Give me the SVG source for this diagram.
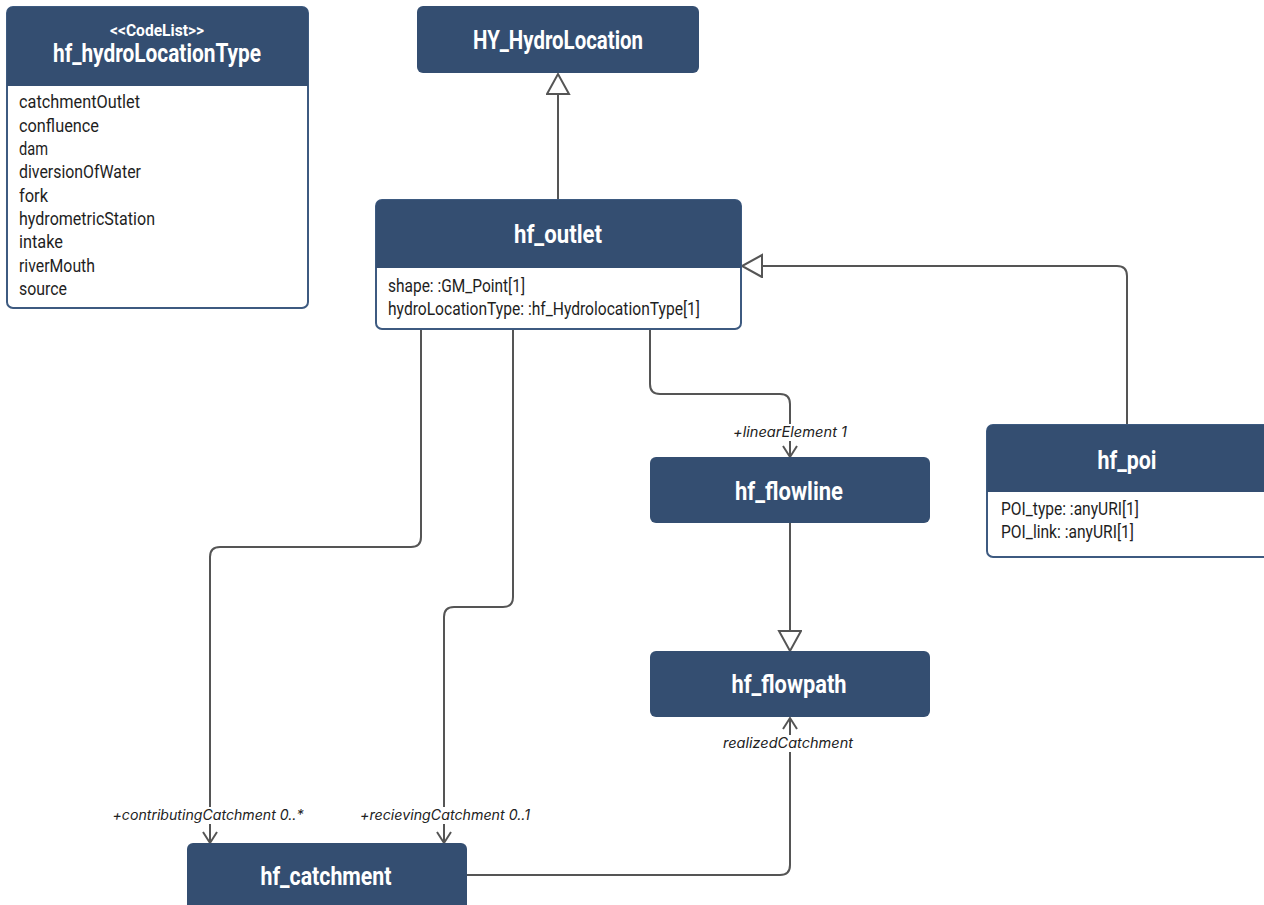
<svg xmlns="http://www.w3.org/2000/svg" width="1264" height="905" viewBox="0 0 1264 905">
  <style>
    .box { fill: #ffffff; stroke: #3d5a80; stroke-width: 2; }
    .head { fill: #344e71; }
    .title { font-family: Roboto, "Liberation Sans", sans-serif; font-weight: bold; font-size: 26px; fill: #ffffff; text-anchor: middle; }
    .stereo { font-family: Roboto, "Liberation Sans", sans-serif; font-weight: bold; font-size: 16px; fill: #ffffff; text-anchor: middle; }
    .attr { font-family: Roboto, "Liberation Sans", sans-serif; font-size: 18px; fill: #1e1e1e; }
    .role { font-family: Inter, "Liberation Sans", sans-serif; font-style: italic; font-size: 14px; fill: #222222; text-anchor: middle; }
    .bg { fill: #ffffff; }
    .edge { fill: none; stroke: #555555; stroke-width: 2; }
  </style>
  <defs>
    <marker id="gen" markerWidth="24" markerHeight="26" refX="21" refY="12" orient="auto" markerUnits="userSpaceOnUse">
      <path d="M1,1 L21,12 L1,23 Z" fill="#ffffff" stroke="#555555" stroke-width="2"/>
    </marker>
    <marker id="open" markerWidth="16" markerHeight="18" refX="13" refY="8" orient="auto" markerUnits="userSpaceOnUse">
      <path d="M2,1 L13,8 L2,15" fill="none" stroke="#555555" stroke-width="2"/>
    </marker>
  </defs>

  <!-- connectors -->
  <g id="connectors">
    <path class="edge" d="M558,200 V74" marker-end="url(#gen)"/>
    <path class="edge" d="M1127,425 V276 Q1127,266 1117,266 H742" marker-end="url(#gen)"/>
    <path class="edge" d="M650,330 V384 Q650,394 660,394 H780 Q790,394 790,404 V457" marker-end="url(#open)"/>
    <path class="edge" d="M421,330 V537 Q421,547 411,547 H220 Q210,547 210,557 V843" marker-end="url(#open)"/>
    <path class="edge" d="M513,330 V597 Q513,607 503,607 H454 Q444,607 444,617 V843" marker-end="url(#open)"/>
    <path class="edge" d="M790,523 V651" marker-end="url(#gen)"/>
    <path class="edge" d="M467,875 H780 Q790,875 790,865 V718" marker-end="url(#open)"/>
    <!-- role labels sit on a white patch that breaks the line -->
    <rect class="bg" x="731" y="424" width="118" height="17"/>
    <text class="role" x="790" y="437" textLength="114" lengthAdjust="spacingAndGlyphs">+linearElement 1</text>
    <rect class="bg" x="111" y="807" width="195" height="17"/>
    <text class="role" x="208" y="820" textLength="191" lengthAdjust="spacingAndGlyphs">+contributingCatchment 0..*</text>
    <rect class="bg" x="358" y="807" width="174" height="17"/>
    <text class="role" x="445" y="820" textLength="170" lengthAdjust="spacingAndGlyphs">+recievingCatchment 0..1</text>
    <rect class="bg" x="721" y="735" width="134" height="17"/>
    <text class="role" x="788" y="748" textLength="130" lengthAdjust="spacingAndGlyphs">realizedCatchment</text>
  </g>

  <!-- code list -->
  <g id="hf_hydroLocationType">
    <rect class="box" x="7" y="7" width="301" height="301" rx="6"/>
    <path class="head" d="M7,13 Q7,7 13,7 H302 Q308,7 308,13 V86 H7 Z"/>
    <text class="stereo" x="157" y="36" textLength="94" lengthAdjust="spacingAndGlyphs">&lt;&lt;CodeList&gt;&gt;</text>
    <text class="title" x="157" y="62" textLength="208" lengthAdjust="spacingAndGlyphs">hf_hydroLocationType</text>
    <text class="attr" x="19" y="108" textLength="121" lengthAdjust="spacingAndGlyphs">catchmentOutlet</text>
    <text class="attr" x="19" y="132" textLength="80" lengthAdjust="spacingAndGlyphs">confluence</text>
    <text class="attr" x="19" y="155" textLength="29" lengthAdjust="spacingAndGlyphs">dam</text>
    <text class="attr" x="19" y="178" textLength="122" lengthAdjust="spacingAndGlyphs">diversionOfWater</text>
    <text class="attr" x="19" y="202" textLength="29" lengthAdjust="spacingAndGlyphs">fork</text>
    <text class="attr" x="19" y="225" textLength="136" lengthAdjust="spacingAndGlyphs">hydrometricStation</text>
    <text class="attr" x="19" y="248" textLength="44" lengthAdjust="spacingAndGlyphs">intake</text>
    <text class="attr" x="19" y="272" textLength="76" lengthAdjust="spacingAndGlyphs">riverMouth</text>
    <text class="attr" x="19" y="295" textLength="48" lengthAdjust="spacingAndGlyphs">source</text>
  </g>

  <g id="HY_HydroLocation">
    <rect class="head" x="417" y="6" width="282" height="67" rx="6"/>
    <text class="title" x="558" y="49" textLength="170" lengthAdjust="spacingAndGlyphs">HY_HydroLocation</text>
  </g>

  <g id="hf_outlet">
    <rect class="box" x="376" y="200" width="365" height="129" rx="6"/>
    <path class="head" d="M376,206 Q376,200 382,200 H735 Q741,200 741,206 V268 H376 Z"/>
    <text class="title" x="558" y="243" textLength="88" lengthAdjust="spacingAndGlyphs">hf_outlet</text>
    <text class="attr" x="388" y="292" textLength="137" lengthAdjust="spacingAndGlyphs">shape: :GM_Point[1]</text>
    <text class="attr" x="388" y="315" textLength="312" lengthAdjust="spacingAndGlyphs">hydroLocationType: :hf_HydrolocationType[1]</text>
  </g>

  <g id="hf_poi">
    <rect class="box" x="987" y="425" width="290" height="132" rx="6"/>
    <path class="head" d="M987,431 Q987,425 993,425 H1277 V492 H987 Z"/>
    <text class="title" x="1127" y="469" textLength="59" lengthAdjust="spacingAndGlyphs">hf_poi</text>
    <text class="attr" x="1001" y="515" textLength="138" lengthAdjust="spacingAndGlyphs">POI_type: :anyURI[1]</text>
    <text class="attr" x="1001" y="538" textLength="133" lengthAdjust="spacingAndGlyphs">POI_link: :anyURI[1]</text>
  </g>

  <g id="hf_flowline">
    <rect class="head" x="650" y="457" width="280" height="66" rx="6"/>
    <text class="title" x="789" y="500" textLength="108" lengthAdjust="spacingAndGlyphs">hf_flowline</text>
  </g>

  <g id="hf_flowpath">
    <rect class="head" x="650" y="651" width="280" height="66" rx="6"/>
    <text class="title" x="789" y="693" textLength="115" lengthAdjust="spacingAndGlyphs">hf_flowpath</text>
  </g>

  <g id="hf_catchment">
    <rect class="head" x="187" y="843" width="280" height="80" rx="6"/>
    <text class="title" x="326" y="885" textLength="131" lengthAdjust="spacingAndGlyphs">hf_catchment</text>
  </g>
</svg>
